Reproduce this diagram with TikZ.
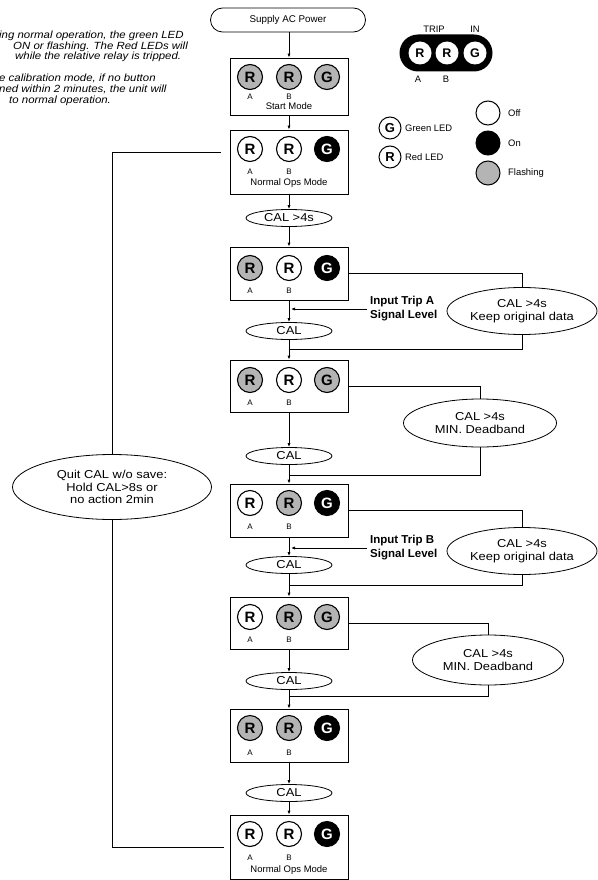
\documentclass[tikz,border=0pt]{standalone}
\usepackage{fontspec}
\setmainfont{Liberation Sans}
\newfontfamily\widesans[FakeStretch=1.12]{Liberation Sans}
\newfontfamily\notesans[FakeStretch=1.1]{Liberation Sans}
\usetikzlibrary{arrows.meta,positioning,shapes.geometric}
\definecolor{flashgray}{RGB}{180,180,180}
\newcommand{\setfs}[2]{\fontsize{#1}{#2}\selectfont}

\begin{document}
\begin{tikzpicture}[x=1pt,y=-1pt,
    box/.style={draw,line width=0.8pt,minimum width=118pt,inner sep=0pt},
    led/.style={circle,draw,line width=1.1pt,minimum size=25pt,inner sep=0pt,font=\setfs{15}{15}\bfseries},
    ledoff/.style={led,fill=white},
    ledon/.style={led,fill=black,text=white},
    ledfl/.style={led,fill=flashgray},
    ab/.style={inner sep=0pt,font=\setfs{8}{8}},
    mode/.style={inner sep=0pt,font=\setfs{9.5}{9.5}},
    calbub/.style={ellipse,draw,line width=0.8pt,minimum width=86pt,minimum height=17pt,inner sep=0pt,font=\widesans\setfs{11.5}{11.5}},
    bigbub/.style={ellipse,draw,line width=0.8pt,inner sep=0pt,align=center,font=\widesans\setfs{11.5}{12.5}},
    inp/.style={anchor=west,align=left,inner sep=3pt,font=\setfs{11.5}{14}\bfseries},
    note/.style={anchor=base west,inner sep=0pt,font=\notesans\setfs{10.4}{10.4}\itshape},
    keytxt/.style={anchor=west,inner sep=1pt,font=\setfs{9.4}{9.4}},
    flow/.style={-{Latex[length=4pt,width=3.2pt]},line width=0.8pt},
    wire/.style={line width=0.8pt}]
    \useasboundingbox (0,0) rectangle (597,880);

    %%% notes (cut at the left edge)
    \node[note] (n1) at (-1,39) {ing normal operation, the green LED};
    \node[note] (n2) at (13,49.5) {ON or flashing.  The Red LEDs will};
    \node[note] (n3) at (15,60) {while the relative relay is tripped.};
    \node[note] (n4) at (-1,82) {e calibration mode, if no button};
    \node[note] (n5) at (-1,92.5) {ned within 2 minutes, the unit will};
    \node[note] (n6) at (9,103) {to normal operation.};

    %%% legend
    \node[fill=black,rounded corners=18.5pt,minimum width=93pt,minimum height=37pt] (panel) at (446,53) {};
    \node[circle,fill=white,minimum size=23pt,inner sep=0pt,font=\setfs{12.5}{12.5}\bfseries] (pa) at (420,53) {R};
    \node[circle,fill=white,minimum size=23pt,inner sep=0pt,font=\setfs{12.5}{12.5}\bfseries] (pb) at (447,53) {R};
    \node[circle,fill=white,minimum size=23pt,inner sep=0pt,font=\setfs{12.5}{12.5}\bfseries] (pg) at (475,53) {G};
    \node[keytxt,anchor=center] (ptrip) at (434,29) {TRIP};
    \node[keytxt,anchor=center] (pin) at (475,29) {IN};
    \node[keytxt,anchor=center] (pal) at (418,79) {A};
    \node[keytxt,anchor=center] (pbl) at (446,79) {B};

    \node[circle,draw,line width=1pt,minimum size=22pt,inner sep=0pt,font=\setfs{13}{13}\bfseries] (kg) at (390,128) {G};
    \node[keytxt] (kgt) at (404,128) {Green LED};
    \node[circle,draw,line width=1pt,minimum size=22pt,inner sep=0pt,font=\setfs{13}{13}\bfseries] (kr) at (390,157) {R};
    \node[keytxt] (krt) at (404,157) {Red LED};

    \node[circle,draw,line width=1pt,minimum size=24pt,fill=white] (koff) at (488,113) {};
    \node[keytxt] (kofft) at (507,113) {Off};
    \node[circle,draw,line width=1pt,minimum size=24pt,fill=black] (kon) at (488,143) {};
    \node[keytxt] (kont) at (507,143) {On};
    \node[circle,draw,line width=1pt,minimum size=24pt,fill=flashgray] (kfl) at (488,173) {};
    \node[keytxt] (kflt) at (507,173) {Flashing};

    %%% main column
    \node[draw,line width=0.8pt,rounded corners=12pt,minimum width=155pt,minimum height=24pt,font=\setfs{9.8}{9.8}] (power) at (288,20) {Supply AC Power};

    \node[box,minimum height=57pt] (start) at (289,86.5) {};
    \node[ledfl] (startA) at (250,77) {R};
    \node[ledfl] (startB) at (289,77) {R};
    \node[ledfl] (startG) at (327,77) {G};
    \node[ab] (startAl) at (250,97) {A};
    \node[ab] (startBl) at (289,97) {B};
    \node[mode] (startm) at (289,106) {Start Mode};

    \node[box,minimum height=64pt] (normal) at (289,162) {};
    \node[ledoff] (normalA) at (250,149) {R};
    \node[ledoff] (normalB) at (289,149) {R};
    \node[ledon] (normalG) at (327,149) {G};
    \node[ab] (normalAl) at (250,172) {A};
    \node[ab] (normalBl) at (289,172) {B};
    \node[mode] (normalm) at (289,183) {Normal Ops Mode};

    \node[calbub] (cal0) at (289,218) {CAL >4s};

    \node[box,minimum height=53pt] (tripa) at (289,273.5) {};
    \node[ledfl] (tripaA) at (250,268) {R};
    \node[ledoff] (tripaB) at (289,268) {R};
    \node[ledon] (tripaG) at (327,268) {G};
    \node[ab] (tripaAl) at (250,291) {A};
    \node[ab] (tripaBl) at (289,291) {B};

    \node[inp] (inpa) at (367,309) {Input Trip A\\Signal Level};
    \coordinate (ta) at (291,309);
    \node[calbub] (cal1) at (289,331) {CAL};
    \node[bigbub,minimum width=150pt,minimum height=47pt] (keepa) at (522,311) {CAL >4s\\Keep original data};
    \coordinate (ja) at (289,349);

    \node[box,minimum height=52pt] (dba) at (289,386) {};
    \node[ledfl] (dbaA) at (250,380) {R};
    \node[ledoff] (dbaB) at (289,380) {R};
    \node[ledfl] (dbaG) at (327,380) {G};
    \node[ab] (dbaAl) at (250,403) {A};
    \node[ab] (dbaBl) at (289,403) {B};

    \node[bigbub,minimum width=153pt,minimum height=48pt] (mina) at (480,423) {CAL >4s\\MIN. Deadband};
    \node[calbub] (cal2) at (289,456) {CAL};
    \coordinate (jb) at (289,475);

    \node[bigbub,minimum width=199pt,minimum height=65pt] (quit) at (112,487) {Quit CAL w/o save:\\Hold CAL>8s or\\no action 2min};

    \node[box,minimum height=53pt] (tripb) at (289,510.5) {};
    \node[ledoff] (tripbA) at (250,503) {R};
    \node[ledfl] (tripbB) at (289,503) {R};
    \node[ledon] (tripbG) at (327,503) {G};
    \node[ab] (tripbAl) at (250,527) {A};
    \node[ab] (tripbBl) at (289,527) {B};

    \node[inp] (inpb) at (367,548) {Input Trip B\\Signal Level};
    \coordinate (tb) at (291,548);
    \node[calbub] (cal3) at (289,565) {CAL};
    \node[bigbub,minimum width=150pt,minimum height=47pt] (keepb) at (522,551) {CAL >4s\\Keep original data};
    \coordinate (jc) at (289,585);

    \node[box,minimum height=52pt] (dbb) at (289,623) {};
    \node[ledoff] (dbbA) at (250,617) {R};
    \node[ledfl] (dbbB) at (289,617) {R};
    \node[ledfl] (dbbG) at (327,617) {G};
    \node[ab] (dbbAl) at (250,640) {A};
    \node[ab] (dbbBl) at (289,640) {B};

    \node[bigbub,minimum width=151pt,minimum height=50pt] (minb) at (488,660) {CAL >4s\\MIN. Deadband};
    \node[calbub] (cal4) at (289,681) {CAL};
    \coordinate (jd) at (289,696);

    \node[box,minimum height=53pt] (both) at (289,735.5) {};
    \node[ledfl] (bothA) at (250,728) {R};
    \node[ledfl] (bothB) at (289,728) {R};
    \node[ledon] (bothG) at (327,728) {G};
    \node[ab] (bothAl) at (250,753) {A};
    \node[ab] (bothBl) at (289,753) {B};

    \node[calbub] (cal5) at (289,793) {CAL};

    \node[box,minimum height=64pt] (back) at (289,847) {};
    \node[ledoff] (backA) at (250,834) {R};
    \node[ledoff] (backB) at (289,834) {R};
    \node[ledon] (backG) at (327,834) {G};
    \node[ab] (backAl) at (250,858) {A};
    \node[ab] (backBl) at (289,858) {B};
    \node[mode] (backm) at (289,870) {Normal Ops Mode};

    %%% connections
    \draw[flow] (power.south -| start.north) -- (start);
    \draw[flow] (start) -- (normal);
    \draw[flow] (normal) -- (cal0);
    \draw[flow] (cal0) -- (tripa);
    \draw[flow] (tripa) -- (cal1);
    \draw[flow] (inpa.west) -- (ta);
    \draw[flow] (cal1) -- (dba);
    \draw[wire] (tripa.east) -| (keepa);
    \draw[wire] (keepa) |- (ja);
    \draw[flow] (dba) -- (cal2);
    \draw[flow] (cal2) -- (tripb);
    \draw[wire] (dba.east) -| (mina);
    \draw[wire] (mina) |- (jb);
    \draw[flow] (tripb) -- (cal3);
    \draw[flow] (inpb.west) -- (tb);
    \draw[flow] (cal3) -- (dbb);
    \draw[wire] (tripb.east) -| (keepb);
    \draw[wire] (keepb) |- (jc);
    \draw[flow] (dbb) -- (cal4);
    \draw[flow] (cal4) -- (both);
    \draw[wire] (dbb.east) -| (minb);
    \draw[wire] (minb) |- (jd);
    \draw[flow] (both) -- (cal5);
    \draw[flow] (cal5) -- (back);
    \draw[wire,shorten <=9pt] ([yshift=10pt]normal.west) -| (quit);
    \draw[wire,shorten >=6pt] (quit) |- (back);
\end{tikzpicture}
\end{document}
